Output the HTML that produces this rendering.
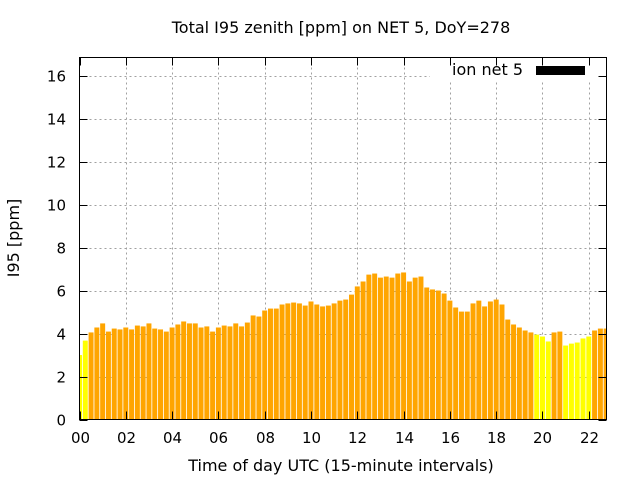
<!DOCTYPE html>
<html><head><meta charset="utf-8"><style>
body{margin:0;background:#fff}
svg{display:block;font-family:"DejaVu Sans",sans-serif}
</style></head><body>
<svg id="chart" width="640" height="480" viewBox="0 0 640 480">
<text x="341" y="33" font-size="16" text-anchor="middle">Total I95 zenith [ppm] on NET 5, DoY=278</text>
<g id="grid"></g>
<g id="bars"></g>
<rect x="430" y="60" width="170" height="22" fill="#fff"/>
<text x="523" y="75" font-size="16" text-anchor="end">ion net 5</text>
<rect x="536" y="66" width="49" height="9" fill="#000"/>
<rect x="79.5" y="57.5" width="527" height="362" fill="none" stroke="#000" stroke-width="1"/>
<g id="ticks"></g>
<text transform="translate(19,238) rotate(-90)" font-size="16" text-anchor="middle">I95 [ppm]</text>
<text x="341" y="471" font-size="16" text-anchor="middle">Time of day UTC (15-minute intervals)</text>
</svg>
<script>
const hours = [];
const values = [3.0,3.67,4.05,4.28,4.47,4.09,4.23,4.19,4.28,4.19,4.37,4.33,4.47,4.23,4.19,4.09,4.28,4.42,4.56,4.47,4.47,4.28,4.33,4.09,4.28,4.37,4.33,4.47,4.33,4.51,4.84,
4.79,5.07,5.16,5.16,5.35,5.40,5.44,5.40,5.30,5.49,5.35,5.26,5.30,5.40,5.53,5.58,5.81,6.19,6.42,6.74,6.79,6.60,6.65,6.60,6.79,6.84,6.42,6.60,6.65,6.14,
6.05,6.00,5.86,5.53,5.21,5.02,5.02,5.40,5.53,5.26,5.49,5.58,5.35,4.65,4.42,4.28,4.14,4.05,3.95,3.86,3.63,4.05,4.09,3.44,3.53,3.58,3.77,3.86,4.14,4.23,4.23];
for(let i=0;i<values.length;i++) hours.push(i*0.25);
const yTicks = [0,2,4,6,8,10,12,14,16];
const xTicks = [0,2,4,6,8,10,12,14,16,18,20,22];
const xTickLabels = ["00","02","04","06","08","10","12","14","16","18","20","22"];
const threshold = 4;

const X0=79.5,X1=606.5,Y0=419.5,Y1=57.5,XMAX=22.765,YMAX=16.84;
const sx=h=>X0+(h/XMAX)*(X1-X0);
const sy=v=>Y0-(v/YMAX)*(Y0-Y1);
const NS="http://www.w3.org/2000/svg";
const mk=(t,a)=>{const e=document.createElementNS(NS,t);for(const k in a)e.setAttribute(k,a[k]);return e;};
const grid=document.getElementById('grid'),bars=document.getElementById('bars'),ticks=document.getElementById('ticks');
yTicks.forEach(v=>{
  const y=Math.round(sy(v))+0.5;
  if(v>0){const g=mk('line',{x1:X0,x2:X1,y1:y,y2:y,stroke:'#a0a0a0','stroke-dasharray':'2,3'});
  
  
  grid.appendChild(g);}
  const t=mk('path',{d:`M${X0},${y}h8M${X1},${y}h-8`,stroke:'#000'});
  
  
  ticks.appendChild(t);
  const l=mk('text',{x:66,y:y+5,'font-size':15,'text-anchor':'end'});l.textContent=v;
  
  
  ticks.appendChild(l);
});
xTicks.forEach((h,i)=>{
  const x=Math.round(sx(h))+0.5;
  if(h>0){const g=mk('line',{x1:x,x2:x,y1:Y0,y2:Y1,stroke:'#a0a0a0','stroke-dasharray':'2,3'});
  
  
  grid.appendChild(g);}
  const t=mk('path',{d:`M${x},${Y0}v-8M${x},${Y1}v8`,stroke:'#000'});
  
  
  ticks.appendChild(t);
  const l=mk('text',{x:x,y:443,'font-size':15,'text-anchor':'middle'});l.textContent=xTickLabels[i];
  
  
  ticks.appendChild(l);
});
const bw=(X1-X0)/XMAX*0.215;
values.forEach((v,i)=>{
  let a=sx(hours[i])-bw/2,b=sx(hours[i])+bw/2;
  a=Math.max(a,X0+0.5);b=Math.min(b,X1-0.5);
  const r=mk('rect',{x:a,y:sy(v),width:b-a,height:Y0-sy(v),fill:v<threshold?'#ffff00':'#ffa500'});
  
  
  bars.appendChild(r);
});
</script>
</body></html>
